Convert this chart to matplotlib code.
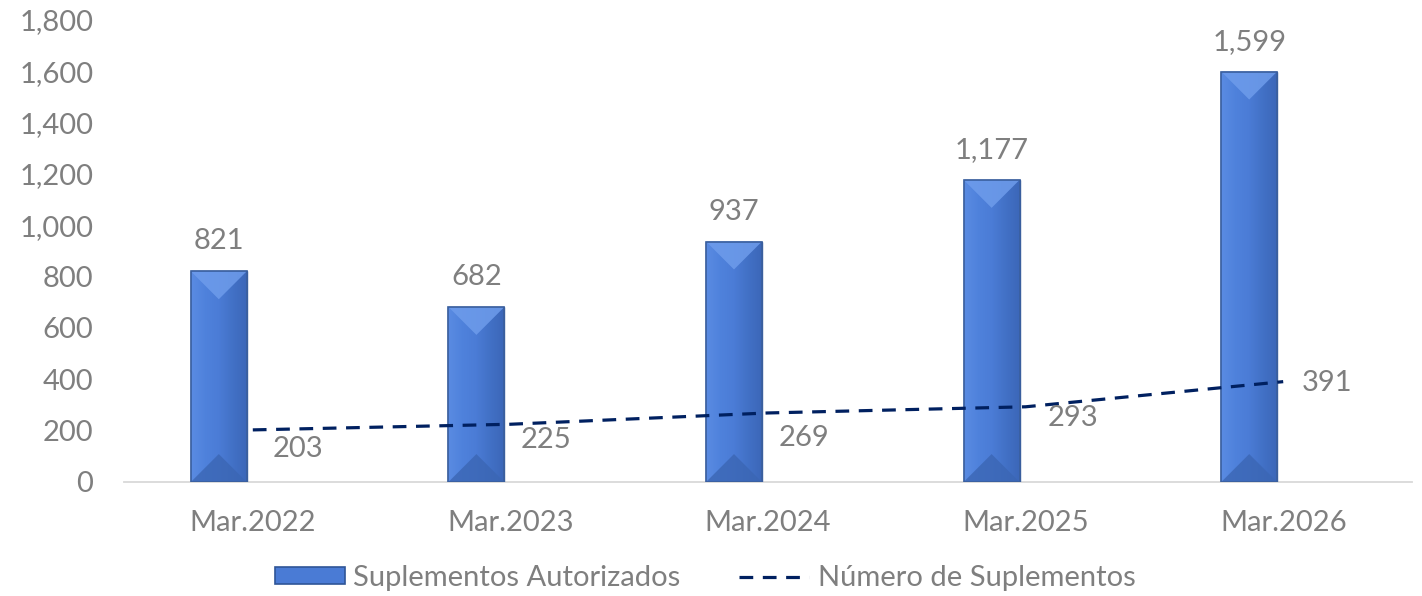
import matplotlib
matplotlib.use("Agg")
import matplotlib.pyplot as plt
import numpy as np
from matplotlib.patches import Polygon, Patch
from matplotlib.lines import Line2D
from matplotlib.colors import LinearSegmentedColormap
from matplotlib.ticker import FuncFormatter

categories = ["Mar.2022", "Mar.2023", "Mar.2024", "Mar.2025", "Mar.2026"]
autorizados = [821, 682, 937, 1177, 1599]
numero = [203, 225, 269, 293, 391]
y_ticks = [0, 200, 400, 600, 800, 1000, 1200, 1400, 1600, 1800]
line_label_offsets_px = [(45, 19), (36, 16), (36, 25), (47, 11), (44, 1)]

plt.rcParams['font.family'] = ['Lato', 'DejaVu Sans']
FS = 21
GRAY = '#7F7F7F'
NAVY = '#002060'

fig = plt.figure(figsize=(14.22, 5.96), dpi=100)
ax = fig.add_axes([124/1422, 1 - 482/596, (1412-124)/1422, (482-20)/596])

x = np.arange(len(categories))
bw = 0.217
xb = x - 0.132
bars = ax.bar(xb, autorizados, width=bw, color='#4A7BD5', edgecolor='#3A5F9E',
              linewidth=1.0, zorder=2)

ax.set_xlim(-0.5, len(categories) - 0.5)
ax.set_ylim(0, 1800)

# bevel effect
fig.canvas.draw()
ax_w_px = ax.get_window_extent().width
ax_h_px = ax.get_window_extent().height
px_per_x = ax_w_px / len(categories)
px_per_y = ax_h_px / 1800
cmap = LinearSegmentedColormap.from_list('bev', ['#5A8BE2', '#4F82DC', '#4B7CD6', '#4271C6', '#3C67B8'])
grad = np.linspace(0, 1, 64).reshape(1, -1)
for rect in bars:
    x0, w, h = rect.get_x(), rect.get_width(), rect.get_height()
    im = ax.imshow(grad, extent=[x0, x0 + w, 0, h], aspect='auto', cmap=cmap,
                   zorder=2.1, interpolation='bilinear')
    im.set_clip_path(rect)
    dy = (w * px_per_x / 2) / px_per_y
    top = Polygon([(x0, h), (x0 + w, h), (x0 + w / 2, h - dy)], closed=True,
                  facecolor='#6E9CEB', edgecolor='none', zorder=2.2, alpha=0.85)
    bot = Polygon([(x0, 0), (x0 + w, 0), (x0 + w / 2, dy)], closed=True,
                  facecolor='#3B66B4', edgecolor='none', zorder=2.2, alpha=0.8)
    ax.add_patch(top)
    ax.add_patch(bot)
    ax.add_patch(plt.Rectangle((x0, 0), w, h, facecolor='none', edgecolor='#3A5F9E',
                               linewidth=1.2, zorder=2.3))

ax.set_xlim(-0.5, len(categories) - 0.5)
ax.set_ylim(0, 1800)

# line series at the category centers
ax.plot(x, numero, color=NAVY, linewidth=2.3, linestyle=(0, (4.3, 3.0)),
        dash_capstyle='butt', zorder=3)

for xi, v in zip(xb, autorizados):
    ax.annotate(f"{v:,}", (xi, v), xytext=(0, 21.5), textcoords='offset points',
                ha='center', va='center', fontsize=FS, color=GRAY)
for xi, v, (dxp, dyp) in zip(x, numero, line_label_offsets_px):
    ax.annotate(f"{v:,}", (xi, v), xytext=(dxp * 0.72, -dyp * 0.72), textcoords='offset points',
                ha='center', va='center', fontsize=FS, color=GRAY)

ax.set_xticks(x)
ax.set_xticklabels(categories)
ax.set_yticks(y_ticks)
ax.yaxis.set_major_formatter(FuncFormatter(lambda v, p: f"{int(v):,}"))
ax.tick_params(axis='both', length=0, labelsize=FS, labelcolor=GRAY)
ax.tick_params(axis='y', pad=22)
ax.tick_params(axis='x', pad=20)
for s in ['top', 'right', 'left']:
    ax.spines[s].set_visible(False)
ax.spines['bottom'].set_color('#D9D9D9')
ax.spines['bottom'].set_linewidth(1.3)
ax.spines['bottom'].set_zorder(1)

handles = [Patch(facecolor='#4A7BD5', edgecolor='#2F5597', linewidth=1.2),
           Line2D([0], [0], color=NAVY, linewidth=2.3, linestyle=(0, (4.3, 3.0)))]
leg = fig.legend(handles, ["Suplementos Autorizados", "Número de Suplementos"],
                 loc='center', bbox_to_anchor=(705/1422, 1 - 578/596), ncol=2,
                 frameon=False, fontsize=FS, labelcolor=GRAY, handlelength=2.4,
                 handleheight=0.5, handletextpad=0.3, columnspacing=2.0)

fig.savefig("out.png", dpi=100)
